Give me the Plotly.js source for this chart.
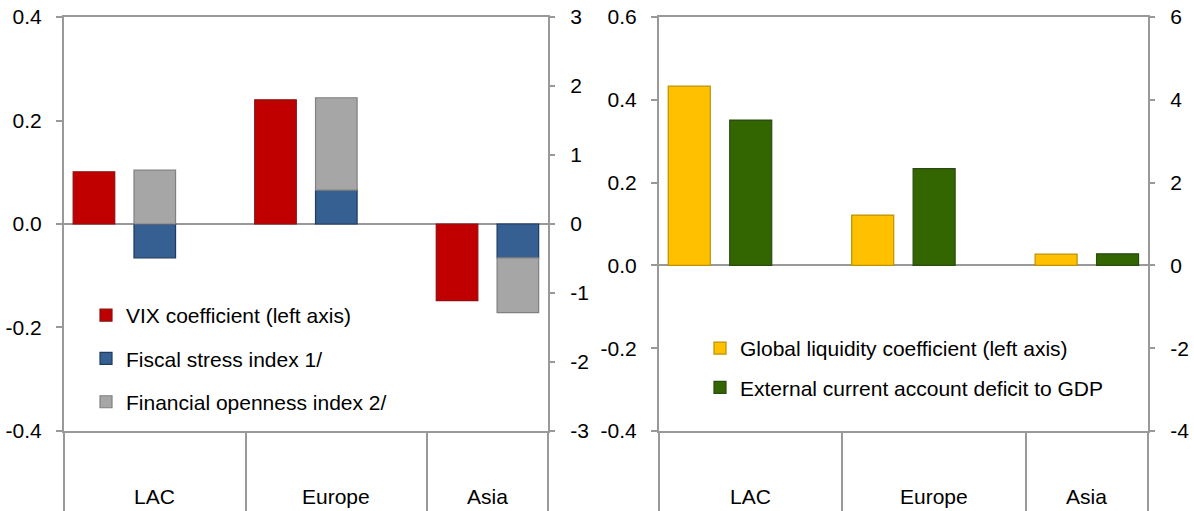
<!DOCTYPE html>
<html><head><meta charset="utf-8">
<script src="https://cdn.plot.ly/plotly-3.0.1.min.js"></script>
<style>html,body{margin:0;padding:0;background:#fff}#chart{width:1194px;height:511px}</style>
</head><body><div id="chart"></div>
<script>
// ---- data ----
const categories = ['LAC', 'Europe', 'Asia'];
const vixCoef = [0.101, 0.240, -0.148];            // left axis
const fiscalStress = [-0.49, 0.49, -0.49];         // right axis
const finOpenness = [0.78, 1.34, -0.795];          // right axis
const liquidityCoef = [0.433, 0.1215, 0.027];      // left axis
const currentAccountDeficit = [3.51, 2.34, 0.28];  // right axis

const leftPanelLTicks = [-0.4, -0.2, 0, 0.2, 0.4];
const leftPanelLLabels = ['-0.4', '-0.2', '0.0', '0.2', '0.4'];
const leftPanelRTicks = [-3, -2, -1, 0, 1, 2, 3];
const leftPanelRLabels = ['-3', '-2', '-1', '0', '1', '2', '3'];
const rightPanelLTicks = [-0.4, -0.2, 0, 0.2, 0.4, 0.6];
const rightPanelLLabels = ['-0.4', '-0.2', '0.0', '0.2', '0.4', '0.6'];
const rightPanelRTicks = [-4, -2, 0, 2, 4, 6];
const rightPanelRLabels = ['-4', '-2', '0', '2', '4', '6'];

// ---- styling ----
const FONT = 'Liberation Sans, Arial, sans-serif';
const FS = 21;
const LINE = '#999999';
const LW = 2;
const BW = 0.229;            // bar width in category units
const OFF1 = -0.4495;        // first bar offset
const OFF2 = -0.1145;        // second bar offset
const XRANGE = [-0.5, 2.166];
const yDom = [0.1566, 0.9667];

const traces = [
  {type: 'bar', name: 'VIX coefficient (left axis)', x: categories, y: vixCoef,
   xaxis: 'x', yaxis: 'y', width: BW, offset: OFF1, legend: 'legend', legendgroup: 'a',
   marker: {color: '#C00000', line: {color: '#8E1010', width: 1.2}}},
  {type: 'bar', name: 'Fiscal stress index 1/', x: categories, y: fiscalStress,
   xaxis: 'x', yaxis: 'y2', width: BW, offset: OFF2, legend: 'legend', legendgroup: 'b',
   marker: {color: '#366092', line: {color: '#1F3A63', width: 1.2}}},
  {type: 'bar', name: 'Financial openness index 2/', x: categories, y: finOpenness,
   xaxis: 'x', yaxis: 'y2', width: BW, offset: OFF2, legend: 'legend', legendgroup: 'c',
   marker: {color: '#A6A6A6', line: {color: '#808080', width: 1.2}}},
  {type: 'bar', name: 'Global liquidity coefficient (left axis)', x: categories, y: liquidityCoef,
   xaxis: 'x2', yaxis: 'y3', width: BW, offset: OFF1, legend: 'legend2', legendgroup: 'd',
   marker: {color: '#FFC000', line: {color: '#BF9000', width: 1.2}}},
  {type: 'bar', name: 'External current account deficit to GDP', x: categories, y: currentAccountDeficit,
   xaxis: 'x2', yaxis: 'y4', width: BW, offset: OFF2, legend: 'legend2', legendgroup: 'e',
   marker: {color: '#336600', line: {color: '#2A4A12', width: 1.2}}}
];

function xAxis(dom, anchor) {
  return {domain: dom, anchor: anchor, type: 'category', range: XRANGE,
    showline: true, mirror: true, linecolor: LINE, linewidth: LW,
    ticks: 'outside', tickson: 'boundaries', ticklen: 80, tickcolor: LINE, tickwidth: LW,
    showticklabels: false, showgrid: false, zeroline: false, fixedrange: true};
}
function yAxis(range, vals, labels, side, overlay, anchor, standoff) {
  const a = {domain: yDom, range: range, tickvals: vals, ticktext: labels, side: side,
    anchor: anchor, showline: true, linecolor: LINE, linewidth: LW,
    ticks: 'outside', ticklen: side === 'left' ? 6 : 5, tickcolor: LINE, tickwidth: LW,
    ticklabelstandoff: standoff,
    showgrid: false, zeroline: side === 'left', zerolinecolor: LINE, zerolinewidth: LW,
    tickfont: {family: FONT, size: FS, color: '#000'}, fixedrange: true};
  if (overlay) a.overlaying = overlay;
  return a;
}

const catFont = {family: FONT, size: FS, color: '#000'};
const annotations = [];
['x', 'x2'].forEach(function (ax) {
  categories.forEach(function (c, i) {
    const lastMid = (i - 0.5 + XRANGE[1]) / 2;
    annotations.push({xref: ax, yref: 'paper', x: i === categories.length - 1 ? lastMid : i,
      y: 0.0274, text: c, showarrow: false, font: catFont, xanchor: 'center', yanchor: 'middle'});
  });
});

const shapes = [];
['x', 'x2'].forEach(function (ax) {
  [0, 1].forEach(function (e) {
    shapes.push({type: 'line', xref: ax + ' domain', yref: 'paper', x0: e, x1: e, y0: 0, y1: yDom[0],
      line: {color: LINE, width: LW}});
  });
});

const legendBase = {font: {family: FONT, size: FS, color: '#000'}, bgcolor: 'rgba(0,0,0,0)',
  xanchor: 'left', yanchor: 'top', traceorder: 'grouped', itemclick: false, itemdoubleclick: false};

const layout = {
  width: 1194, height: 511, margin: {l: 0, r: 0, t: 0, b: 0},
  paper_bgcolor: '#fff', plot_bgcolor: '#fff', barmode: 'relative',
  font: {family: FONT, size: FS, color: '#000'},
  xaxis: xAxis([64 / 1194, 548 / 1194], 'y'),
  yaxis: yAxis([-0.4, 0.4], leftPanelLTicks, leftPanelLLabels, 'left', null, 'x', 10),
  yaxis2: yAxis([-3, 3], leftPanelRTicks, leftPanelRLabels, 'right', 'y', 'x', 11),
  xaxis2: xAxis([659 / 1194, 1148 / 1194], 'y3'),
  yaxis3: yAxis([-0.4, 0.6], rightPanelLTicks, rightPanelLLabels, 'left', null, 'x2', 10),
  yaxis4: yAxis([-4, 6], rightPanelRTicks, rightPanelRLabels, 'right', 'y3', 'x2', 11),
  legend: Object.assign({}, legendBase, {x: 86 / 1194, y: 1 - 295 / 511, tracegroupgap: 13}),
  legend2: Object.assign({}, legendBase, {x: 700 / 1194, y: 1 - 328 / 511, tracegroupgap: 9}),
  annotations: annotations,
  shapes: shapes,
  showlegend: true
};

Plotly.newPlot('chart', traces, layout, {displayModeBar: false, staticPlot: true});
</script></body></html>
